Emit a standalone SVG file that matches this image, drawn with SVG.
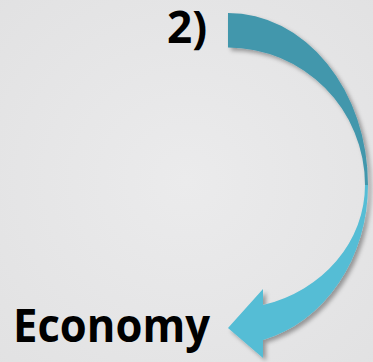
<svg xmlns="http://www.w3.org/2000/svg" width="373" height="362" viewBox="0 0 373 362">
  <style>
    .lbl { font-family: "Open Sans", "Liberation Sans", sans-serif; font-weight: bold; fill: #000000; }
  </style>
  <defs>
    <radialGradient id="bg" cx="50%" cy="50%" r="75%">
      <stop offset="0" stop-color="#ebebec"/>
      <stop offset="1" stop-color="#e1e1e2"/>
    </radialGradient>
    <filter id="sh" x="-10%" y="-10%" width="130%" height="130%">
      <feDropShadow dx="3" dy="3" stdDeviation="2" flood-color="#000000" flood-opacity="0.35"/>
    </filter>
  </defs>
  <rect x="0" y="0" width="373" height="362" fill="url(#bg)"/>
  <g id="connectors">
    <g id="curved-arrow" filter="url(#sh)">
      <path d="M228,13 A140,172 0 0 1 368,185 L365,185 A137,137.5 0 0 0 228,47.5 Z" fill="#4397ac"/>
      <path d="M368,185 A140,160 0 0 1 263,340 L263,358 L228,328 L263,289 L263,305 A137,124 0 0 0 365,185 Z" fill="#55bdd5"/>
    </g>
  </g>
  <g id="node-2">
    <text class="lbl" x="167" y="43" font-size="44">2)</text>
  </g>
  <g id="node-economy">
    <text class="lbl" x="13" y="342" font-size="47" textLength="197" lengthAdjust="spacingAndGlyphs">Economy</text>
  </g>
</svg>
